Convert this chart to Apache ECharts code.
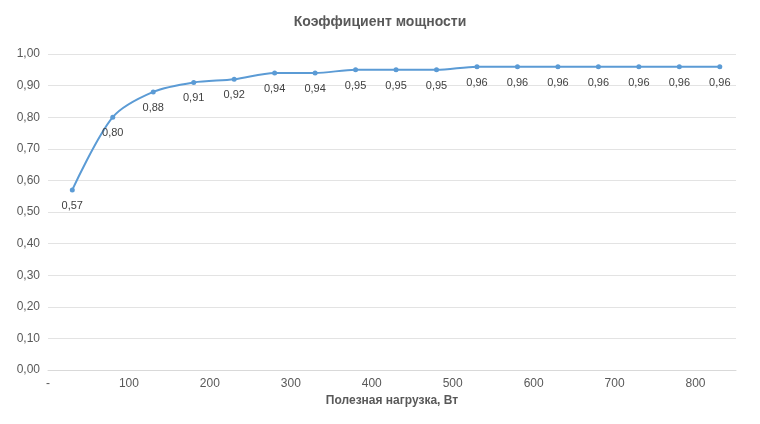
<!DOCTYPE html>
<html><head><meta charset="utf-8">
<script src="https://cdn.jsdelivr.net/npm/echarts@6/dist/echarts.min.js"></script>
<style>html,body{margin:0;padding:0;background:#fff}#c{width:760px;height:424px}</style>
</head><body><div id="c"></div>
<script>
var loads = [30, 80, 130, 180, 230, 280, 330, 380, 430, 480, 530, 580, 630, 680, 730, 780, 830];
var powerFactor = [0.57, 0.80, 0.88, 0.91, 0.92, 0.94, 0.94, 0.95, 0.95, 0.95, 0.96, 0.96, 0.96, 0.96, 0.96, 0.96, 0.96];

var chart = echarts.init(document.getElementById('c'));
var fmt = function (v) { return v.toFixed(2).replace('.', ','); };
chart.setOption({
  animation: false,
  textStyle: { fontFamily: 'Liberation Sans, Arial' },
  title: {
    text: 'Коэффициент мощности', left: 'center', top: 10,
    textStyle: { fontSize: 14, fontWeight: 'bold', color: '#595959' }
  },
  grid: { left: 48, right: 24, top: 54, bottom: 54 },
  xAxis: {
    type: 'value', min: 0, max: 850, interval: 100,
    name: 'Полезная нагрузка, Вт', nameLocation: 'middle', nameGap: 22,
    nameTextStyle: { fontSize: 12, fontWeight: 'bold', color: '#595959' },
    axisLine: { lineStyle: { color: '#d9d9d9' } },
    axisTick: { show: false },
    splitLine: { show: false },
    axisLabel: { color: '#595959', fontSize: 12, showMaxLabel: false,
      formatter: function (v) { return v === 0 ? '-' : v; } }
  },
  yAxis: {
    type: 'value', min: 0, max: 1, interval: 0.1,
    axisLine: { show: false }, axisTick: { show: false },
    splitLine: { lineStyle: { color: '#e3e3e3' } },
    axisLabel: { color: '#595959', fontSize: 12, formatter: fmt }
  },
  series: [{
    type: 'line', smooth: 0.3,
    data: loads.map(function (x, i) { return [x, powerFactor[i]]; }),
    symbol: 'circle', symbolSize: 5,
    lineStyle: { color: '#5b9bd5', width: 2 },
    itemStyle: { color: '#5b9bd5' },
    label: {
      show: true, position: 'bottom', distance: 8, color: '#404040', fontSize: 11,
      formatter: function (p) { return fmt(p.value[1]); }
    }
  }]
});
</script></body></html>
